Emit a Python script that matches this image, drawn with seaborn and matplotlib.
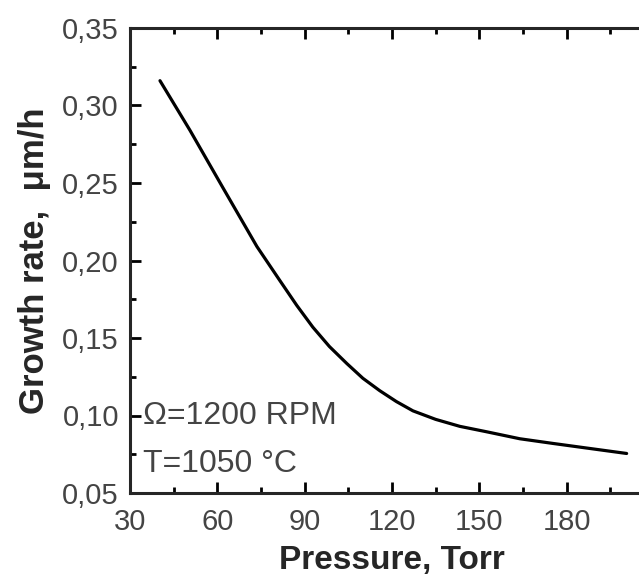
import seaborn as sns
import matplotlib.pyplot as plt
import pandas as pd
from matplotlib.ticker import MultipleLocator, FuncFormatter

# values
pressure = [40.3, 50.6, 61.9, 73.6, 81.5, 87.3, 92.8, 98.5, 104.5, 110, 115.8, 121.5, 127.2, 135,
            143.3, 152.5, 163.9, 175.2, 186.9, 200.6]
growth = [0.316, 0.284, 0.247, 0.209, 0.187, 0.171, 0.157, 0.1445, 0.1335, 0.124, 0.116, 0.109, 0.103, 0.0975,
          0.093, 0.0895, 0.085, 0.082, 0.079, 0.0755]

data = pd.DataFrame({'pressure': pressure, 'growth': growth})

sns.set_style('ticks')
plt.rcParams['font.family'] = ['Liberation Sans', 'DejaVu Sans']

fig = plt.figure(figsize=(6.39, 5.79), dpi=100)
# axes run past the right edge of the picture, like the cropped original
ax = fig.add_axes([130 / 639, 1 - 493 / 579, 524 / 639, 465 / 579])

sns.lineplot(data=data, x='pressure', y='growth', ax=ax, color='black', linewidth=2.3)

ax.set_xlim(30, 210)
ax.set_ylim(0.05, 0.35)
ax.xaxis.set_major_locator(MultipleLocator(30))
ax.xaxis.set_minor_locator(MultipleLocator(15))
ax.yaxis.set_major_locator(MultipleLocator(0.05))
ax.yaxis.set_minor_locator(MultipleLocator(0.025))
ax.xaxis.set_major_formatter(FuncFormatter(lambda v, p: f'{v:.0f}' if v <= 180 else ''))
ax.yaxis.set_major_formatter(FuncFormatter(lambda v, p: f'{v:.2f}'.replace('.', ',')))

for s in ax.spines.values():
    s.set_linewidth(2.2)
ax.spines['right'].set_visible(False)
ax.tick_params(which='both', direction='in', top=True, right=False, width=2, colors='black',
               labelcolor='#444444', labelsize=21)
ax.tick_params(which='major', length=8)
ax.tick_params(which='minor', length=4)
ax.tick_params(axis='x', which='major', pad=11)
ax.tick_params(axis='y', which='major', pad=8)

ax.set_xlabel('Pressure, Torr', fontsize=24, fontweight='bold', labelpad=6)
ax.set_ylabel('Growth rate,  μm/h', fontsize=25, fontweight='bold', labelpad=8)

ax.text(34.3, 0.100, 'Ω=1200 RPM', fontsize=23, color='#444444', va='center')
ax.text(34.3, 0.069, 'T=1050 °C', fontsize=23, color='#444444', va='center')

plt.savefig('out.png', dpi=100)
